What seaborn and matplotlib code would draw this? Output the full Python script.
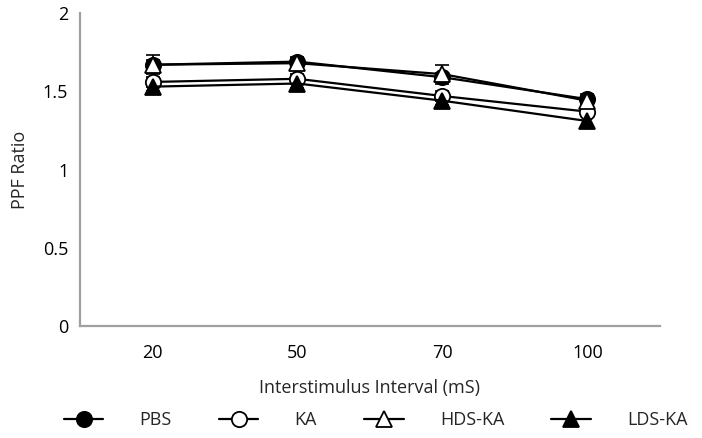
import pandas as pd
import seaborn as sns
import matplotlib.pyplot as plt
import numpy as np

# Data
intervals = ["20", "50", "70", "100"]
pbs = [1.67, 1.69, 1.59, 1.45]
ka = [1.56, 1.58, 1.47, 1.37]
hds_ka = [1.67, 1.68, 1.61, 1.44]
lds_ka = [1.53, 1.55, 1.44, 1.31]
pbs_err = [0.03, 0.03, 0.03, 0.03]
ka_err = [0.03, 0.03, 0.03, 0.03]
hds_err = [0.06, 0.03, 0.06, 0.03]
lds_err = [0.03, 0.03, 0.03, 0.03]

sns.set_style("white")
plt.rcParams['font.family'] = ['Open Sans', 'DejaVu Sans']

series = [
    ("PBS", pbs, pbs_err, "o", "black"),
    ("KA", ka, ka_err, "o", "white"),
    ("HDS-KA", hds_ka, hds_err, "^", "white"),
    ("LDS-KA", lds_ka, lds_err, "^", "black"),
]

fig = plt.figure(figsize=(7.02, 4.38), dpi=100)
ax = fig.add_axes([0.114, 0.256, 0.826, 0.714])

xpos = np.arange(len(intervals))
for name, vals, errs, mk, face in series:
    df = pd.DataFrame({"x": xpos, "y": vals})
    ax.errorbar(xpos, vals, yerr=errs, fmt="none", ecolor="black",
                elinewidth=1.2, capsize=5, capthick=1.2, zorder=2)
    sns.lineplot(data=df, x="x", y="y", ax=ax, color="black", linewidth=1.6,
                 marker=mk, markersize=11, markerfacecolor=face,
                 markeredgecolor="black", markeredgewidth=1.3, label=name,
                 zorder=3)

ax.set_xlim(-0.5, len(intervals) - 0.5)
ax.set_ylim(0, 2)
ax.set_xticks(xpos)
ax.set_xticklabels(intervals)
ax.set_yticks([0, 0.5, 1, 1.5, 2])
ax.set_yticklabels(["0", "0.5", "1", "1.5", "2"])
ax.tick_params(axis="both", labelsize=13, colors="black", length=5,
               width=1, direction="out")
ax.tick_params(axis="x", direction="inout", length=8, pad=9)
for t in ax.get_xticklines() + ax.get_yticklines():
    t.set_color("#999999")

sns.despine(ax=ax)
for s in ["left", "bottom"]:
    ax.spines[s].set_color("#a0a0a0")
    ax.spines[s].set_linewidth(1.6)

ax.set_xlabel("Interstimulus Interval (mS)", fontsize=13, labelpad=12)
ax.set_ylabel("PPF Ratio", fontsize=13, labelpad=10)

ax.get_legend().remove()
handles, labels = ax.get_legend_handles_labels()
fig.legend(handles, labels, loc="center", bbox_to_anchor=(0.535, 0.04),
           ncol=4, frameon=False, fontsize=13, handlelength=2.2,
           handletextpad=2.0, columnspacing=2.6)

fig.savefig("out.png", dpi=100)
